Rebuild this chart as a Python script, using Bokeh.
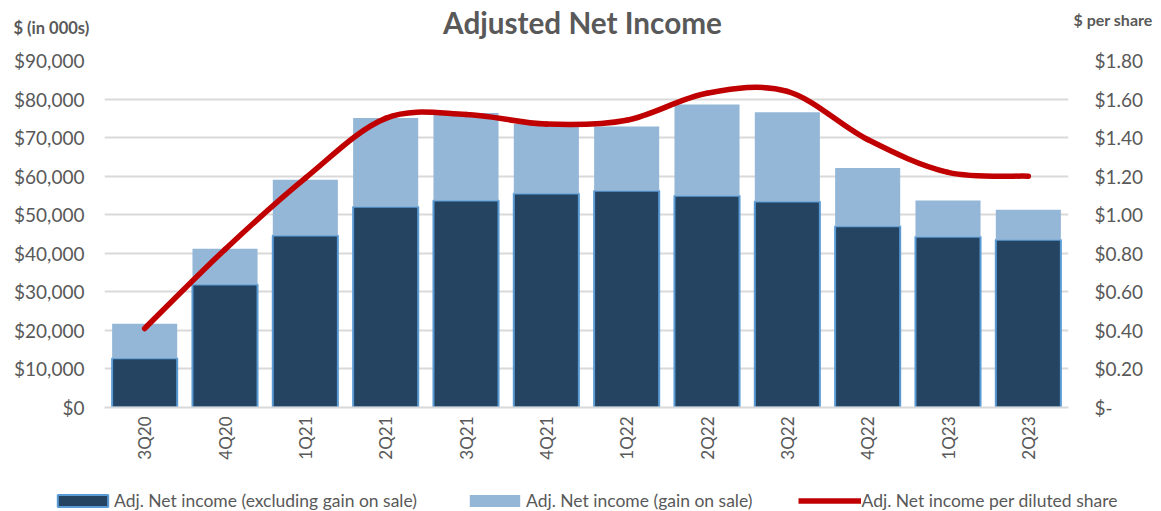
import numpy as np
from bokeh.plotting import figure
from bokeh.layouts import column
from bokeh.models import (Range1d, LinearAxis, FixedTicker, NumeralTickFormatter,
                          Label, Legend, LegendItem)
from bokeh.embed import file_html
from bokeh.resources import INLINE

# ---------------- data ----------------
quarters = ["3Q20", "4Q20", "1Q21", "2Q21", "3Q21", "4Q21",
            "1Q22", "2Q22", "3Q22", "4Q22", "1Q23", "2Q23"]
net_income_ex_gain = [12800, 31900, 44600, 52100, 53700, 55500,
                      56200, 54900, 53400, 47000, 44300, 43500]
gain_on_sale = [8900, 9300, 14500, 23000, 22700, 18000,
                16700, 23700, 23200, 15100, 9400, 7800]
eps_diluted = [0.41, 0.82, 1.19, 1.50, 1.52, 1.47,
               1.49, 1.63, 1.64, 1.39, 1.22, 1.20]
left_ticks = [0, 10000, 20000, 30000, 40000, 50000, 60000, 70000, 80000, 90000]
right_ticks = [0, 0.2, 0.4, 0.6, 0.8, 1.0, 1.2, 1.4, 1.6, 1.8]
title_text = "Adjusted Net Income"
left_unit = "$ (in 000s)"
right_unit = "$ per share"
legend_labels = ["Adj. Net income (excluding gain on sale)",
                 "Adj. Net income (gain on sale)",
                 "Adj. Net income per diluted share"]

# ---------------- styles ----------------
FONT = "Lato"
GREY = "#595959"
DARK = "#244461"
DARK_EDGE = "#5B9BD5"
LIGHT = "#94B7D7"
RED = "#C00000"
GRID = "#D9D9D9"
W = 1161
HEAD_H, MAIN_H, FOOT_H = 48, 422, 41


def blank(height):
    f = figure(width=W, height=height, x_range=Range1d(0, W), y_range=Range1d(height, 0),
               output_backend="svg", toolbar_location=None, min_border=0,
               min_border_left=0, min_border_right=0, min_border_top=0, min_border_bottom=0,
               x_axis_location=None, y_axis_location=None, frame_align=False,
               outline_line_color=None, background_fill_color="white",
               border_fill_color="white")
    f.grid.visible = False
    return f


# ---------------- header ----------------
head = blank(HEAD_H)
head.add_layout(Label(x=582, y=22, text=title_text, text_align="center",
                      text_baseline="middle", text_font=FONT, text_font_style="bold",
                      text_font_size="29.7px", text_color=GREY))
head.add_layout(Label(x=13, y=27, text=left_unit, text_align="left",
                      text_baseline="middle", text_font=FONT, text_font_style="bold",
                      text_font_size="16.5px", text_color=GREY))
head.add_layout(Label(x=1073, y=19, text=right_unit, text_align="left",
                      text_baseline="middle", text_font=FONT, text_font_style="bold",
                      text_font_size="16px", text_color=GREY))

# ---------------- main chart ----------------
n = len(quarters)
xs = np.arange(n, dtype=float)
dark = np.array(net_income_ex_gain, dtype=float)
total = dark + np.array(gain_on_sale, dtype=float)

p = figure(width=W, height=MAIN_H,
           x_range=Range1d(-0.5, n - 0.5), y_range=Range1d(0, 90000),
           output_backend="svg", toolbar_location=None, frame_align=False,
           min_border_left=104, min_border_right=93,
           min_border_top=12, min_border_bottom=63,
           background_fill_color="white", border_fill_color="white",
           outline_line_color=None)
p.extra_y_ranges = {"eps": Range1d(0, 1.8)}

lt = FixedTicker(ticks=left_ticks)
ya = p.yaxis[0]
ya.ticker = lt
ya.formatter = NumeralTickFormatter(format="$0,0")
ya.axis_line_color = None
ya.major_tick_line_color = None
ya.minor_tick_line_color = None
ya.major_tick_out = 0
ya.major_tick_in = 0
ya.major_label_standoff = 20
ya.major_label_text_font = FONT
ya.major_label_text_font_size = "19px"
ya.major_label_text_color = GREY

ra = LinearAxis(y_range_name="eps", ticker=FixedTicker(ticks=right_ticks),
                formatter=NumeralTickFormatter(format="$0.00"))
ra.major_label_overrides = {0: "$-"}
ra.axis_line_color = None
ra.major_tick_line_color = None
ra.minor_tick_line_color = None
ra.major_tick_out = 0
ra.major_tick_in = 0
ra.major_label_standoff = 26
ra.major_label_text_font = FONT
ra.major_label_text_font_size = "19px"
ra.major_label_text_color = GREY
p.add_layout(ra, "right")

xa = p.xaxis[0]
xa.ticker = FixedTicker(ticks=list(range(n)))
xa.major_label_overrides = {i: q for i, q in enumerate(quarters)}
xa.major_label_orientation = np.pi / 2
xa.major_tick_line_color = None
xa.minor_tick_line_color = None
xa.major_tick_out = 0
xa.major_tick_in = 0
xa.axis_line_color = GRID
xa.axis_line_width = 2
xa.major_label_standoff = 9
xa.major_label_text_font = FONT
xa.major_label_text_font_size = "17px"
xa.major_label_text_color = GREY

p.xgrid.visible = False
p.ygrid.ticker = lt
p.ygrid.grid_line_color = GRID
p.ygrid.grid_line_width = 2

p.vbar(x=xs, top=dark, bottom=0, width=0.81,
       fill_color=DARK, line_color=DARK_EDGE, line_width=2)
p.vbar(x=xs, top=total, bottom=dark, width=0.81,
       fill_color=LIGHT, line_color=None)

# smoothed EPS line (Catmull-Rom style bezier segments, like Excel smoothing)
ye = np.array(eps_diluted, dtype=float)
xp = np.concatenate([[xs[0]], xs, [xs[-1]]])
yp = np.concatenate([[ye[0]], ye, [ye[-1]]])
x0 = xp[1:-2]; y0 = yp[1:-2]
x1 = xp[2:-1]; y1 = yp[2:-1]
cx0 = x0 + (xp[2:-1] - xp[0:-3]) / 6.0
cy0 = y0 + (yp[2:-1] - yp[0:-3]) / 6.0
cx1 = x1 - (xp[3:] - xp[1:-2]) / 6.0
cy1 = y1 - (yp[3:] - yp[1:-2]) / 6.0
p.bezier(x0=x0, y0=y0, x1=x1, y1=y1, cx0=cx0, cy0=cy0, cx1=cx1, cy1=cy1,
         line_color=RED, line_width=5.5, line_cap="round", y_range_name="eps")

# ---------------- footer with legend ----------------
# legend keys: hidden copies of the series (same styles), only used for the legend glyphs
foot = blank(FOOT_H)
k_dark = foot.vbar(x=xs, top=dark, width=0.81, fill_color=DARK, line_color=DARK_EDGE,
                   line_width=2, visible=False)
k_light = foot.vbar(x=xs, top=total, bottom=dark, width=0.81, fill_color=LIGHT,
                    line_color=None, visible=False)
k_line = foot.line(x=xs, y=ye, line_color=RED, line_width=5.5, visible=False)
legend = Legend(items=[
    LegendItem(label=legend_labels[0], renderers=[k_dark]),
    LegendItem(label=legend_labels[1], renderers=[k_light]),
    LegendItem(label=legend_labels[2], renderers=[k_line]),
], orientation="horizontal", location=(51, 0), padding=0, margin=0,
    spacing=46, glyph_width=63, glyph_height=15, label_standoff=0,
    label_text_font=FONT, label_text_font_size="17.5px", label_text_color=GREY,
    background_fill_alpha=0, border_line_color=None,
    inactive_fill_alpha=0)
foot.add_layout(legend)

layout = column(head, p, foot, spacing=0)
open("out.html", "w").write(file_html(layout, INLINE))
